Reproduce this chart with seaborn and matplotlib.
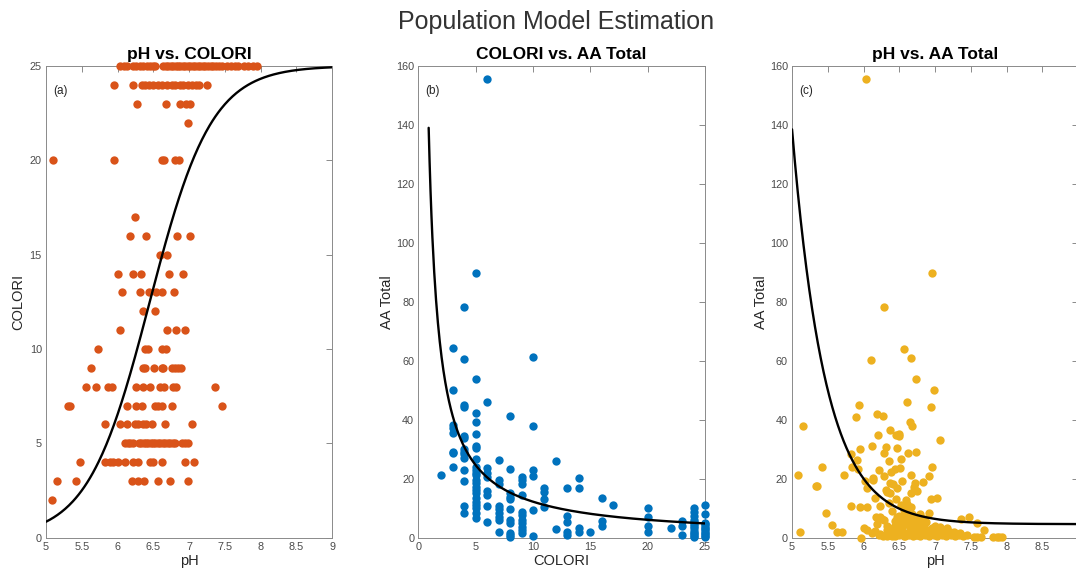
import numpy as np
import matplotlib
matplotlib.use("Agg")
import matplotlib.pyplot as plt
import seaborn as sns

# ---------------------------------------------------------------- data
# (a) pH readings grouped by COLORI score
colori_a_levels = [25, 24, 23, 22, 20, 17, 16, 15, 14, 13, 12, 11, 10, 9, 8, 7, 6, 5, 4, 3, 2]
ph_a_groups = [
    [6.04, 6.09, 6.13, 6.22, 6.26, 6.32, 6.36, 6.41, 6.46, 6.50, 6.53, 6.64, 6.68, 6.71,
     6.75, 6.78, 6.82, 6.85, 6.88, 6.92, 6.95, 6.98, 7.02, 7.05, 7.08, 7.12, 7.15, 7.19,
     7.22, 7.26, 7.30, 7.34, 7.38, 7.42, 7.46, 7.53, 7.58, 7.64, 7.69, 7.77, 7.83, 7.89, 7.95],
    [5.95, 6.22, 6.34, 6.38, 6.44, 6.50, 6.56, 6.62, 6.69, 6.76, 6.80, 6.87, 6.92, 6.98,
     7.04, 7.10, 7.14, 7.25],
    [6.27, 6.68, 6.87, 6.96, 7.01],
    [6.98],
    [5.10, 5.95, 6.62, 6.65, 6.81, 6.86],
    [6.24],
    [6.18, 6.40, 6.83, 7.01],
    [6.59, 6.69],
    [6.01, 6.21, 6.33, 6.72, 6.91],
    [6.06, 6.31, 6.44, 6.54, 6.62, 6.79],
    [6.36, 6.52],
    [6.04, 6.69, 6.82, 6.94],
    [5.73, 6.39, 6.43, 6.62, 6.68],
    [5.63, 6.35, 6.39, 6.51, 6.62, 6.64, 6.76, 6.81, 6.85, 6.89],
    [5.56, 5.70, 5.87, 5.92, 6.26, 6.35, 6.46, 6.59, 6.65, 6.78, 6.82, 7.36],
    [5.31, 5.34, 6.13, 6.26, 6.34, 6.53, 6.57, 6.62, 6.76, 7.46],
    [5.82, 6.03, 6.13, 6.24, 6.29, 6.36, 6.40, 6.48, 6.66, 7.04],
    [6.11, 6.14, 6.18, 6.22, 6.30, 6.33, 6.37, 6.40, 6.43, 6.47, 6.50, 6.53, 6.57, 6.60,
     6.63, 6.67, 6.70, 6.73, 6.77, 6.80, 6.90, 6.94, 6.98],
    [5.48, 5.83, 5.90, 5.93, 6.01, 6.10, 6.22, 6.28, 6.45, 6.49, 6.62, 6.94, 7.07],
    [5.16, 5.42, 6.20, 6.29, 6.37, 6.57, 6.73, 6.98],
    [5.09],
]

# (b) AA Total readings grouped by COLORI score
colori_b_levels = [2, 3, 4, 5, 6, 7, 8, 9, 10, 11, 12, 13, 14, 15, 16, 17, 20, 22, 23, 24, 25]
aa_b_groups = [
    [21.3],
    [64.2, 50.2, 38.2, 37.1, 35.4, 29.2, 28.6, 23.9],
    [78.1, 60.6, 45.0, 44.4, 34.5, 33.7, 30.1, 29.2, 28.4, 26.9, 23.0, 19.1, 10.9, 8.5],
    [89.7, 54.0, 42.4, 39.3, 35.2, 31.1, 30.3, 26.8, 24.1, 23.0, 22.0, 21.3, 19.6, 18.4,
     17.3, 16.2, 15.0, 13.3, 12.2, 11.1, 10.0, 8.3, 6.6],
    [155.5, 46.0, 23.7, 21.8, 20.5, 15.9, 14.5, 10.9, 5.2],
    [26.3, 19.6, 18.1, 10.7, 9.6, 8.5, 7.1, 6.0, 2.0],
    [41.3, 23.3, 15.0, 13.9, 13.0, 9.6, 6.0, 4.9, 1.7, 0.9, 0.3],
    [20.5, 19.6, 18.2, 14.5, 8.8, 7.7, 6.0, 4.9, 3.7, 2.6, 1.7],
    [61.2, 37.9, 23.0, 21.0, 9.4, 0.6],
    [16.7, 15.4, 13.0, 10.5],
    [26.1, 2.9],
    [17.0, 7.5, 5.4, 2.0, 0.9],
    [20.4, 17.0, 3.4, 2.0],
    [2.0],
    [13.3, 5.7, 4.1],
    [11.1],
    [10.2, 6.9, 4.1, 2.0],
    [3.2],
    [5.7, 4.1, 0.9],
    [10.2, 8.8, 7.5, 6.0, 4.6, 3.2, 1.7, 0.6, 5.3, 3.9, 2.4, 1.1, 0.2],
    [11.1, 7.9, 5.1, 4.0, 3.2, 2.4, 1.5, 0.6, 4.5, 2.8, 1.1, 0.2],
]

# (c) paired pH / AA Total readings
ph_c = [6.03, 6.96, 6.28, 6.57, 6.67, 6.11, 6.73, 6.98, 6.95, 5.94, 5.89, 6.19, 6.27,
        6.61, 6.65, 6.68, 5.16, 7.07, 6.37, 6.20, 6.45, 6.49, 6.50, 6.31, 6.47, 6.12,
        5.95, 5.83, 5.91, 6.29, 6.62, 6.73, 6.53, 6.36, 6.96, 5.42, 5.84, 5.92, 6.44,
        6.51, 6.22, 6.38, 6.28, 6.66, 6.92, 5.09, 5.73, 6.13, 6.13, 6.02, 6.37, 6.54,
        6.72, 6.83, 6.41, 6.47, 6.70, 5.33, 5.35, 6.05, 6.75, 6.33, 6.37, 6.66, 6.32,
        6.16, 6.95, 7.03, 6.46, 6.59, 6.36, 6.23, 5.83, 5.95, 6.05, 6.61, 6.64, 6.52,
        6.58, 6.40, 6.91, 5.48, 6.18, 6.23, 6.60, 6.70, 6.85, 6.28, 7.36, 7.47, 7.59,
        6.50, 6.59, 5.56, 6.00, 6.05, 6.12, 5.63, 5.70, 5.11, 5.96, 7.69, 7.17, 7.07,
        6.22, 6.27, 6.33, 6.38, 6.44, 6.50, 6.56, 6.63, 6.69, 6.75, 6.79, 6.86, 6.92,
        6.98, 7.03, 7.10, 7.16, 7.22, 7.28, 7.33, 7.39, 7.45, 7.54, 7.59, 7.64, 7.81,
        7.86, 7.90, 7.94, 6.47, 6.54, 6.61, 6.65, 6.70, 6.75, 6.79, 6.86, 6.91, 6.96,
        7.03, 7.06, 6.51, 6.58, 6.68, 6.77, 6.83, 6.33, 6.38, 6.42, 6.63, 6.72, 6.82,
        6.63, 6.68, 6.56, 6.47, 7.21, 7.28, 7.35, 7.12, 7.17,
        6.19, 6.26, 6.33, 6.37, 6.44, 6.49, 6.53, 6.58, 6.60, 6.65, 6.67, 6.72, 6.76,
        6.79, 6.84, 6.88, 6.93, 7.00, 7.07, 7.17, 7.26, 7.35, 6.23, 6.51, 6.74, 7.03,
        6.58, 6.91, 6.16, 6.40]
aa_c = [155.5, 89.7, 78.1, 63.9, 61.1, 60.4, 54.0, 50.1, 44.5, 45.0, 41.0, 42.0, 41.4,
        46.0, 39.2, 37.9, 38.0, 33.2, 36.4, 35.0, 34.7, 34.4, 35.3, 30.8, 30.3, 31.0,
        30.0, 28.3, 26.5, 28.7, 28.8, 29.2, 26.7, 26.0, 24.1, 24.0, 24.0, 23.3, 23.4,
        23.7, 22.9, 22.2, 21.0, 21.3, 20.8, 21.3, 21.3, 20.1, 19.5, 19.2, 18.6, 19.3,
        18.4, 18.9, 18.1, 16.9, 17.2, 17.6, 17.6, 16.7, 15.9, 15.4, 15.2, 15.2, 16.1,
        13.5, 13.0, 13.6, 13.0, 12.7, 11.8, 10.8, 10.8, 10.3, 10.3, 11.4, 10.5, 11.0,
        9.9, 9.1, 8.5, 8.5, 7.1, 6.9, 8.2, 7.1, 6.5, 6.0, 6.2, 7.1, 5.1,
        5.7, 6.5, 4.3, 3.2, 2.6, 1.7, 1.8, 1.8, 1.9, 0.0, 2.6, 3.3, 3.7,
        0.9, 0.6, 0.6, 0.8, 0.6, 0.9, 0.6, 0.8, 0.6, 0.9, 0.6, 0.8, 0.6,
        0.8, 0.6, 0.8, 0.6, 0.8, 0.6, 0.8, 0.6, 0.8, 0.3, 0.3, 0.3, 0.1,
        0.1, 0.1, 0.1, 2.6, 3.7, 4.6, 3.2, 4.3, 2.4, 3.7, 2.8, 2.0, 3.2,
        2.6, 1.5, 2.0, 1.7, 2.0, 1.5, 1.8, 2.6, 2.0, 3.5, 6.0, 5.4, 4.8,
        7.3, 8.2, 9.4, 7.1, 1.8, 1.5, 1.7, 2.0, 1.5,
        4.7, 6.3, 4.1, 2.4, 5.8, 7.5, 4.1, 5.4, 8.6, 6.9, 10.3, 4.1, 5.8,
        8.0, 3.5, 5.2, 2.4, 4.1, 1.8, 1.3, 1.8, 1.3, 1.3, 1.3, 0.9, 1.3,
        0.7, 0.9, 2.4, 0.7]

# fitted population models
logistic_cap, logistic_rate, logistic_mid = 25.0, 2.31, 6.45   # COLORI vs pH
power_coef, power_exp = 125.0, 1.01                            # AA Total vs COLORI
decay_amp, decay_rate, decay_floor = 133.9, 2.16, 4.6          # AA Total vs pH

# ---------------------------------------------------------------- expand groups
colori_a = np.concatenate([[lv] * len(g) for lv, g in zip(colori_a_levels, ph_a_groups)])
ph_a = np.concatenate(ph_a_groups)
colori_b = np.concatenate([[lv] * len(g) for lv, g in zip(colori_b_levels, aa_b_groups)])
aa_b = np.concatenate(aa_b_groups)

ph_grid = np.linspace(5, 9, 300)
colori_grid = np.linspace(0.9, 25, 300)
fit_a = logistic_cap / (1 + np.exp(-logistic_rate * (ph_grid - logistic_mid)))
fit_b = power_coef * colori_grid ** (-power_exp)
fit_c = decay_floor + decay_amp * np.exp(-decay_rate * (ph_grid - 5))

# ---------------------------------------------------------------- styling
sns.set_theme(style="white")
plt.rcParams["font.family"] = ["Liberation Sans", "DejaVu Sans"]

ORANGE = "#D95319"
BLUE = "#0072BD"
YELLOW = "#EDB120"
SPINE = "#8a8a8a"
TICKTXT = "#4a4a4a"

fig = plt.figure(figsize=(10.76, 5.77), dpi=100)
ax_a = fig.add_axes([0.0428, 0.0681, 0.2658, 0.8175])
ax_b = fig.add_axes([0.3888, 0.0681, 0.2664, 0.8175])
ax_c = fig.add_axes([0.7361, 0.0681, 0.2658, 0.8175])


def style_axes(ax, xlim, ylim, xticks, yticks, xlabel, ylabel, title, tag, ylab_x):
    ax.set_xlim(*xlim)
    ax.set_ylim(*ylim)
    ax.set_xticks(xticks)
    ax.set_yticks(yticks)
    ax.set_xticklabels([f"{t:g}" for t in xticks])
    ax.set_yticklabels([f"{t:g}" for t in yticks])
    for sp in ax.spines.values():
        sp.set_visible(True)
        sp.set_color(SPINE)
        sp.set_linewidth(0.7)
    ax.tick_params(direction="in", top=True, right=True, length=4.5, width=0.7,
                   color=SPINE, labelcolor=TICKTXT, labelsize=7.8, pad=3)
    ax.set_xlabel(xlabel, fontsize=10.5, color="#262626")
    ax.set_ylabel(ylabel, fontsize=10.5, color="#262626")
    ax.xaxis.set_label_coords(0.5, -0.034)
    ax.yaxis.set_label_coords(ylab_x, 0.5)
    ax.set_title(title, fontsize=12.5, fontweight="bold", color="black", pad=5)
    ax.text(0.025, 0.947, tag, transform=ax.transAxes, fontsize=8.5,
            va="center", ha="left", color="#262626")
    ax.grid(False)


MS = 36

# (a) pH vs COLORI
sns.scatterplot(x=ph_a, y=colori_a, ax=ax_a, color=ORANGE, s=MS, linewidth=0,
                clip_on=False, legend=False, zorder=3)
sns.lineplot(x=ph_grid, y=fit_a, ax=ax_a, color="black", linewidth=1.7, zorder=4)
style_axes(ax_a, (5, 9), (0, 25), [5, 5.5, 6, 6.5, 7, 7.5, 8, 8.5, 9],
           [0, 5, 10, 15, 20, 25], "pH", "COLORI", "pH vs. COLORI", "(a)", -0.072)

# (b) COLORI vs AA Total
sns.scatterplot(x=colori_b, y=aa_b, ax=ax_b, color=BLUE, s=MS, linewidth=0,
                clip_on=False, legend=False, zorder=3)
sns.lineplot(x=colori_grid, y=fit_b, ax=ax_b, color="black", linewidth=1.7, zorder=4)
style_axes(ax_b, (0, 25), (0, 160), [0, 5, 10, 15, 20, 25],
           [0, 20, 40, 60, 80, 100, 120, 140, 160], "COLORI", "AA Total",
           "COLORI vs. AA Total", "(b)", -0.085)

# (c) pH vs AA Total
sns.scatterplot(x=ph_c, y=aa_c, ax=ax_c, color=YELLOW, s=MS, linewidth=0,
                clip_on=False, legend=False, zorder=3)
sns.lineplot(x=ph_grid, y=fit_c, ax=ax_c, color="black", linewidth=1.7, zorder=4)
style_axes(ax_c, (5, 9), (0, 160), [5, 5.5, 6, 6.5, 7, 7.5, 8, 8.5, 9],
           [0, 20, 40, 60, 80, 100, 120, 140, 160], "pH", "AA Total",
           "pH vs. AA Total", "(c)", -0.085)

fig.text(0.517, 0.962, "Population Model Estimation", ha="center", va="center",
         fontsize=18, color="#333333")

fig.savefig("out.png", dpi=100)
